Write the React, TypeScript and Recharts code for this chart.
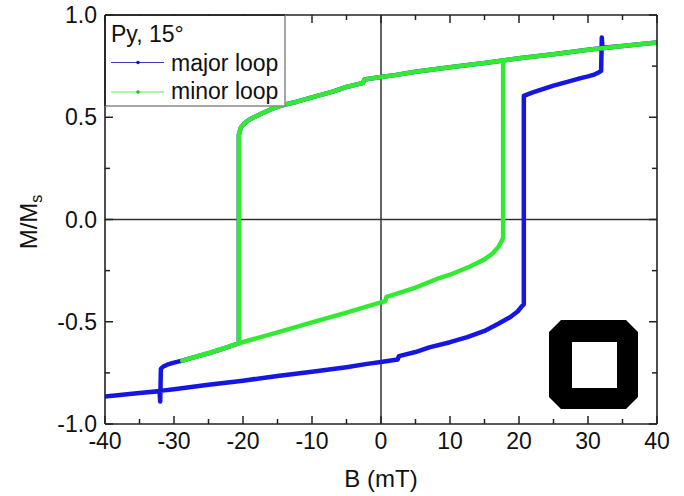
import { LineChart, Line, XAxis, YAxis, ReferenceLine } from "recharts";

// major loop, traced in measurement order (B in mT, M/Ms)
const majorB = [
  40, 35, 30, 25, 20, 17.7, 15, 10, 5, 2, 0, -2.4, -2.6, -5, -7, -10, -12.2, -14.6, -16.1, -17.5, -19, -19.8, -20.3, -20.6,
  -20.6, -22, -25, -27, -28.8, -30, -31, -31.6, -31.9, -32, -32.1, -35, -40,
  -35, -32, -30, -25, -20, -15, -10, -5, -2, 0, 2.4, 2.6, 5, 7, 10, 12.5, 15, 17, 18.7, 19.8, 20.4, 20.7,
  20.7, 22, 25, 27, 28.8, 30, 31, 31.6, 31.9, 32, 32.1, 35, 40,
];
const majorM = [
  0.865, 0.848, 0.83, 0.808, 0.788, 0.778, 0.765, 0.745, 0.722, 0.706, 0.697, 0.685, 0.668, 0.648, 0.625, 0.597, 0.576, 0.556, 0.537, 0.515, 0.49, 0.47, 0.45, 0.415,
  -0.605, -0.622, -0.655, -0.673, -0.69, -0.7, -0.71, -0.72, -0.73, -0.89, -0.84, -0.848, -0.865,
  -0.848, -0.838, -0.83, -0.808, -0.788, -0.765, -0.745, -0.722, -0.706, -0.697, -0.685, -0.668, -0.648, -0.625, -0.6, -0.575, -0.545, -0.51, -0.478, -0.45, -0.425, -0.415,
  0.605, 0.622, 0.655, 0.673, 0.69, 0.7, 0.71, 0.72, 0.727, 0.89, 0.84, 0.848, 0.865,
];

// minor loop
const minorB = [
  40, 35, 30, 25, 20, 17.7, 15, 10, 5, 2, 0, -2.4, -2.6, -5, -7, -10, -12.2, -14.6, -16.1, -17.5, -19, -19.8, -20.3, -20.6,
  -20.6, -22, -25, -27, -28.8,
  -27, -25, -22.5, -20.6, -15, -10, -5, -2, 0, 0.6, 0.8, 3, 5, 8, 10, 12.9, 15, 16.2, 17, 17.5, 17.7, 17.7,
];
const minorM = [
  0.865, 0.848, 0.83, 0.808, 0.788, 0.778, 0.765, 0.745, 0.722, 0.706, 0.697, 0.685, 0.668, 0.648, 0.625, 0.597, 0.576, 0.556, 0.537, 0.515, 0.49, 0.47, 0.45, 0.415,
  -0.605, -0.622, -0.655, -0.673, -0.69,
  -0.672, -0.652, -0.627, -0.605, -0.552, -0.503, -0.455, -0.425, -0.405, -0.4, -0.378, -0.355, -0.333, -0.292, -0.27, -0.23, -0.195, -0.165, -0.135, -0.105, -0.09, 0.778,
];

const xTicks = [-40, -35, -30, -25, -20, -15, -10, -5, 0, 5, 10, 15, 20, 25, 30, 35, 40];
const yTicks = [-1, -0.75, -0.5, -0.25, 0, 0.25, 0.5, 0.75, 1];

const majorData = majorB.map((b, i) => ({ b, m: majorM[i] }));
const minorData = minorB.map((b, i) => ({ b, m: minorM[i] }));

const FONT = '"Liberation Sans", Arial, sans-serif';
const AXIS = "#222";
const BLUE = "#1616e2";
const GREEN = "#33ea33";

const isMajorX = (v: number) => v % 10 === 0;
const isMajorY = (v: number) => Math.abs(v * 2 - Math.round(v * 2)) < 1e-9;

const BottomTick = (props: any) => {
  const { x, y, payload } = props;
  const v = payload.value;
  const major = isMajorX(v);
  return (
    <g>
      <line x1={x} x2={x} y1={y} y2={y - (major ? 8 : 5)} stroke={AXIS} strokeWidth={1.5} />
      {major && (
        <text x={x} y={y + 25} textAnchor="middle" fontSize={23} fontFamily={FONT} fill="#111">
          {v}
        </text>
      )}
    </g>
  );
};

const TopTick = (props: any) => {
  const { x, y, payload } = props;
  const major = isMajorX(payload.value);
  return <line x1={x} x2={x} y1={y} y2={y + (major ? 8 : 5)} stroke={AXIS} strokeWidth={1.5} />;
};

const LeftTick = (props: any) => {
  const { x, y, payload } = props;
  const v = payload.value;
  const major = isMajorY(v);
  return (
    <g>
      <line x1={x} x2={x + (major ? 8 : 5)} y1={y} y2={y} stroke={AXIS} strokeWidth={1.5} />
      {major && (
        <text x={x - 8} y={y + 8} textAnchor="end" fontSize={23} fontFamily={FONT} fill="#111">
          {v.toFixed(1)}
        </text>
      )}
    </g>
  );
};

const RightTick = (props: any) => {
  const { x, y, payload } = props;
  const major = isMajorY(payload.value);
  return <line x1={x} x2={x - (major ? 8 : 5)} y1={y} y2={y} stroke={AXIS} strokeWidth={1.5} />;
};

const Overlay = () => (
  <svg width={684} height={496} style={{ position: "absolute", left: 0, top: 0, pointerEvents: "none" }}>
    {/* legend box */}
    <rect x={106} y={16} width={179} height={90} fill="#fff" />
    <line x1={285} x2={285} y1={15} y2={106} stroke="#888" strokeWidth={1.5} />
    <line x1={105} x2={285} y1={106} y2={106} stroke="#888" strokeWidth={1.5} />
    <line x1={105} x2={105} y1={15} y2={106} stroke={AXIS} strokeWidth={1.6} />
    <line x1={105} x2={285} y1={15} y2={15} stroke={AXIS} strokeWidth={1.6} />
    <text x={111} y={42} fontSize={23} fontFamily={FONT} fill="#111">Py, 15°</text>
    <line x1={111} x2={164} y1={62.5} y2={62.5} stroke="#3a3ab0" strokeWidth={1} />
    <circle cx={138} cy={62.5} r={1.8} fill="#1a1a90" />
    <text x={171} y={71} fontSize={23} fontFamily={FONT} fill="#111">major loop</text>
    <line x1={111} x2={164} y1={92} y2={92} stroke="#5ee85e" strokeWidth={1} />
    <circle cx={138} cy={92} r={1.8} fill="#22c022" />
    <text x={171} y={99} fontSize={23} fontFamily={FONT} fill="#111">minor loop</text>

    {/* sample shape inset */}
    <path
      d="M561 320 L626 320 L638 332 L638 397 L626 409 L561 409 L549 397 L549 332 Z M572 342 L572 388 L617 388 L617 342 Z"
      fill="#000"
      fillRule="evenodd"
    />

    {/* axis titles */}
    <text x={381} y={487} textAnchor="middle" fontSize={24} fontFamily={FONT} fill="#111">B (mT)</text>
    <text
      transform="translate(37 222) rotate(-90)"
      textAnchor="middle"
      fontSize={24}
      fontFamily={FONT}
      fill="#111"
    >
      M/M<tspan fontSize={16} dy={5}>s</tspan>
    </text>
  </svg>
);

const App = () => {
  return (
    <div style={{ position: "absolute", left: 0, top: 0, width: 684, height: 496, background: "#fff" }}>
      <LineChart width={684} height={496} margin={{ top: 14, right: 26, bottom: 71, left: 104 }}>
        <XAxis
          xAxisId="bottom"
          type="number"
          dataKey="b"
          domain={[-40, 40]}
          allowDataOverflow
          ticks={xTicks}
          interval={0}
          height={1}
          tickSize={0}
          tickMargin={0}
          tickLine={false}
          tick={BottomTick}
          axisLine={{ stroke: AXIS, strokeWidth: 1.6 }}
        />
        <XAxis
          xAxisId="top"
          orientation="top"
          type="number"
          dataKey="b"
          domain={[-40, 40]}
          allowDataOverflow
          ticks={xTicks}
          interval={0}
          height={1}
          tickSize={0}
          tickMargin={0}
          tickLine={false}
          tick={TopTick}
          axisLine={{ stroke: AXIS, strokeWidth: 1.6 }}
        />
        <YAxis
          yAxisId="left"
          type="number"
          dataKey="m"
          domain={[-1, 1]}
          allowDataOverflow
          ticks={yTicks}
          interval={0}
          width={1}
          tickSize={0}
          tickMargin={0}
          tickLine={false}
          tick={LeftTick}
          axisLine={{ stroke: AXIS, strokeWidth: 1.6 }}
        />
        <YAxis
          yAxisId="right"
          orientation="right"
          type="number"
          dataKey="m"
          domain={[-1, 1]}
          allowDataOverflow
          ticks={yTicks}
          interval={0}
          width={1}
          tickSize={0}
          tickMargin={0}
          tickLine={false}
          tick={RightTick}
          axisLine={{ stroke: AXIS, strokeWidth: 1.6 }}
        />
        <ReferenceLine xAxisId="bottom" yAxisId="left" x={0} stroke="#333" strokeWidth={1.5} />
        <ReferenceLine xAxisId="bottom" yAxisId="left" y={0} stroke="#333" strokeWidth={1.5} />
        <Line
          xAxisId="top"
          yAxisId="right"
          data={majorData}
          dataKey="m"
          stroke="none"
          dot={false}
          isAnimationActive={false}
        />
        <Line
          xAxisId="bottom"
          yAxisId="left"
          data={majorData}
          dataKey="m"
          type="linear"
          stroke={BLUE}
          strokeWidth={4.5}
          strokeLinejoin="round"
          dot={false}
          isAnimationActive={false}
        />
        <Line
          xAxisId="bottom"
          yAxisId="left"
          data={minorData}
          dataKey="m"
          type="linear"
          stroke={GREEN}
          strokeWidth={4.5}
          strokeLinejoin="round"
          dot={false}
          isAnimationActive={false}
        />
      </LineChart>
      <Overlay />
    </div>
  );
};

export default App;
